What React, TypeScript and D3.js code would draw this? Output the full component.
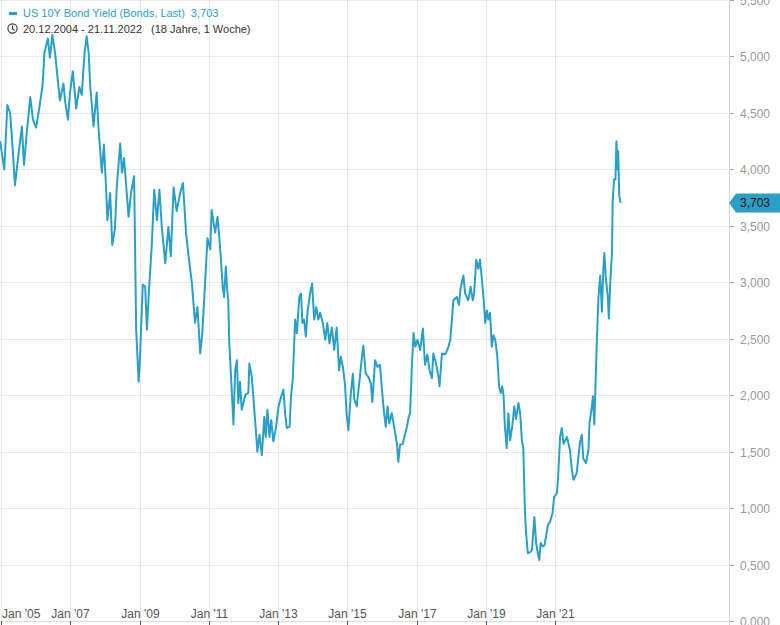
import React from "react";
import * as d3 from "d3";

// decimal years (weekly-ish samples)
const dates: number[] = [
  2004.97, 2005.09, 2005.18, 2005.26, 2005.31, 2005.40, 2005.47, 2005.60, 2005.66, 2005.74,
  2005.84, 2005.92, 2006.01, 2006.11, 2006.20, 2006.25, 2006.35, 2006.41, 2006.48, 2006.56,
  2006.63, 2006.70, 2006.80, 2006.85, 2006.93, 2006.99, 2007.07, 2007.17, 2007.26, 2007.33,
  2007.41, 2007.47, 2007.53, 2007.57, 2007.67, 2007.76, 2007.81, 2007.91, 2007.97, 2008.03,
  2008.07, 2008.15, 2008.21, 2008.29, 2008.34, 2008.44, 2008.49, 2008.55, 2008.68, 2008.75,
  2008.84, 2008.90, 2008.97, 2009.01, 2009.09, 2009.16, 2009.21, 2009.27, 2009.35, 2009.42,
  2009.50, 2009.57, 2009.64, 2009.74, 2009.83, 2009.90, 2009.98, 2010.07, 2010.17, 2010.25,
  2010.34, 2010.41, 2010.51, 2010.60, 2010.67, 2010.75, 2010.81, 2010.89, 2010.96, 2011.04,
  2011.08, 2011.18, 2011.25, 2011.32, 2011.40, 2011.44, 2011.49, 2011.53, 2011.56, 2011.59,
  2011.66, 2011.71, 2011.76, 2011.81, 2011.85, 2011.90, 2011.95, 2012.05, 2012.14, 2012.17,
  2012.24, 2012.29, 2012.35, 2012.40, 2012.46, 2012.53, 2012.60, 2012.64, 2012.69, 2012.75,
  2012.80, 2012.86, 2012.94, 2013.01, 2013.09, 2013.15, 2013.20, 2013.25, 2013.33, 2013.37,
  2013.42, 2013.47, 2013.49, 2013.54, 2013.61, 2013.66, 2013.70, 2013.75, 2013.80, 2013.85,
  2013.92, 2013.98, 2014.04, 2014.10, 2014.16, 2014.21, 2014.29, 2014.36, 2014.42, 2014.48,
  2014.55, 2014.62, 2014.69, 2014.76, 2014.81, 2014.87, 2014.93, 2014.98, 2015.03, 2015.10,
  2015.16, 2015.20, 2015.27, 2015.35, 2015.42, 2015.46, 2015.53, 2015.61, 2015.68, 2015.72,
  2015.80, 2015.87, 2015.94, 2015.99, 2016.06, 2016.11, 2016.16, 2016.21, 2016.28, 2016.35,
  2016.43, 2016.47, 2016.52, 2016.60, 2016.67, 2016.72, 2016.77, 2016.81, 2016.86, 2016.91,
  2016.96, 2017.02, 2017.10, 2017.18, 2017.24, 2017.31, 2017.37, 2017.44, 2017.48, 2017.56,
  2017.63, 2017.66, 2017.73, 2017.82, 2017.92, 2017.97, 2018.01, 2018.06, 2018.16, 2018.22,
  2018.27, 2018.35, 2018.40, 2018.49, 2018.56, 2018.62, 2018.66, 2018.72, 2018.78, 2018.83,
  2018.88, 2018.93, 2018.98, 2019.03, 2019.07, 2019.12, 2019.17, 2019.22, 2019.27, 2019.33,
  2019.38, 2019.43, 2019.47, 2019.51, 2019.55, 2019.60, 2019.65, 2019.70, 2019.76, 2019.82,
  2019.87, 2019.94, 2019.99, 2020.04, 2020.08, 2020.13, 2020.16, 2020.21, 2020.28, 2020.33,
  2020.40, 2020.45, 2020.50, 2020.54, 2020.58, 2020.64, 2020.69, 2020.74, 2020.79, 2020.85,
  2020.92, 2020.97, 2021.05, 2021.09, 2021.14, 2021.19, 2021.24, 2021.34, 2021.43, 2021.48,
  2021.53, 2021.62, 2021.72, 2021.77, 2021.81, 2021.89, 2021.96, 2021.99, 2022.06, 2022.09,
  2022.13, 2022.20, 2022.25, 2022.30, 2022.35, 2022.39, 2022.42, 2022.46, 2022.52, 2022.55,
  2022.59, 2022.64, 2022.66, 2022.70, 2022.74, 2022.77, 2022.80, 2022.82, 2022.85, 2022.89,
];

const yields: number[] = [
  4.25, 4.00, 4.57, 4.50, 4.29, 3.86, 4.05, 4.38, 4.04, 4.32,
  4.64, 4.44, 4.37, 4.56, 4.75, 5.03, 5.16, 4.99, 5.19, 5.03,
  4.81, 4.61, 4.76, 4.60, 4.44, 4.68, 4.87, 4.54, 4.73, 4.66,
  5.03, 5.18, 5.03, 4.76, 4.38, 4.68, 4.38, 3.97, 4.22, 3.85,
  3.55, 3.79, 3.33, 3.48, 3.84, 4.23, 3.97, 4.10, 3.58, 3.79,
  3.94, 2.58, 2.12, 2.33, 2.98, 2.96, 2.58, 2.93, 3.33, 3.82,
  3.55, 3.82, 3.49, 3.17, 3.49, 3.23, 3.84, 3.63, 3.79, 3.88,
  3.44, 3.24, 2.99, 2.64, 2.78, 2.37, 2.55, 2.99, 3.39, 3.29,
  3.64, 3.44, 3.58, 3.33, 2.96, 2.87, 3.14, 2.93, 2.84, 2.46,
  2.05, 1.74, 2.22, 2.31, 1.93, 2.12, 1.87, 2.00, 2.02, 2.28,
  2.16, 1.96, 1.72, 1.50, 1.65, 1.47, 1.81, 1.63, 1.87, 1.63,
  1.78, 1.59, 1.72, 1.90, 1.99, 2.05, 1.84, 1.71, 1.72, 1.99,
  2.13, 2.52, 2.67, 2.55, 2.87, 2.90, 2.64, 2.67, 2.52, 2.74,
  2.90, 2.99, 2.67, 2.78, 2.67, 2.73, 2.64, 2.49, 2.64, 2.46,
  2.60, 2.40, 2.60, 2.22, 2.34, 2.25, 2.10, 1.82, 1.69, 2.02,
  2.19, 1.96, 1.90, 2.13, 2.34, 2.44, 2.19, 2.16, 2.10, 1.94,
  2.31, 2.25, 2.27, 2.08, 1.84, 1.72, 1.90, 1.75, 1.84, 1.72,
  1.57, 1.41, 1.56, 1.57, 1.66, 1.72, 1.81, 1.84, 2.25, 2.55,
  2.43, 2.49, 2.40, 2.59, 2.27, 2.36, 2.22, 2.15, 2.37, 2.28,
  2.16, 2.08, 2.37, 2.36, 2.43, 2.49, 2.64, 2.84, 2.87, 2.80,
  2.95, 3.06, 2.90, 2.84, 2.96, 2.84, 2.90, 3.20, 3.12, 3.20,
  3.04, 2.87, 2.64, 2.75, 2.67, 2.73, 2.43, 2.53, 2.49, 2.34,
  2.08, 2.02, 2.08, 2.00, 1.72, 1.53, 1.84, 1.60, 1.72, 1.90,
  1.79, 1.93, 1.84, 1.60, 1.53, 0.95, 0.78, 0.60, 0.61, 0.63,
  0.92, 0.69, 0.60, 0.54, 0.69, 0.66, 0.67, 0.76, 0.85, 0.88,
  0.95, 1.10, 1.13, 1.31, 1.63, 1.71, 1.57, 1.63, 1.51, 1.34,
  1.25, 1.31, 1.59, 1.65, 1.44, 1.40, 1.51, 1.75, 1.90, 1.99,
  1.74, 2.46, 2.87, 3.06, 2.74, 3.11, 3.26, 3.05, 2.87, 2.68,
  2.99, 3.26, 3.71, 3.91, 3.91, 4.25, 4.00, 4.16, 3.77, 3.703,
];

const xTickYears: number[] = [2005, 2007, 2009, 2011, 2013, 2015, 2017, 2019, 2021];
const yTicks: number[] = [0, 0.5, 1, 1.5, 2, 2.5, 3, 3.5, 4, 4.5, 5, 5.5];
const lastValue = 3.703;
const seriesName = "US 10Y Bond Yield (Bonds, Last)";
const rangeText = "20.12.2004 - 21.11.2022";
const durationText = "(18 Jahre, 1 Woche)";

const W = 780;
const H = 625;
const PLOT_R = 729;
const PLOT_B = 621;
const BLUE = "#2a9fc8";
const FONT = "'Liberation Sans', Arial, sans-serif";

function decToDate(d: number): Date {
  const y = Math.floor(d);
  const start = Date.UTC(y, 0, 1);
  const end = Date.UTC(y + 1, 0, 1);
  return new Date(start + (d - y) * (end - start));
}

const deLocale = d3.formatLocale({ decimal: ",", thousands: ".", grouping: [3], currency: ["", "€"] });
const fmt3 = deLocale.format(".3f");

export default function App() {
  const x = d3
    .scaleUtc()
    .domain([new Date(Date.UTC(2004, 11, 20)), new Date(Date.UTC(2026, 0, 8))])
    .range([0, PLOT_R]);
  const y = d3.scaleLinear().domain([0, 5.5]).range([PLOT_B, 0]);

  const pts = dates.map((d, i) => ({ t: decToDate(d), v: yields[i] }));
  const line = d3
    .line<{ t: Date; v: number }>()
    .x((p) => x(p.t))
    .y((p) => y(p.v));

  const yLast = y(lastValue);

  return (
    <svg
      width={W}
      height={H}
      style={{ position: "fixed", left: 0, top: 0, background: "#fff" }}
      fontFamily={FONT}
    >
      {/* horizontal grid */}
      {yTicks.map((t) => (
        <line key={"hg" + t} x1={0} x2={PLOT_R} y1={Math.round(y(t)) + 0.5} y2={Math.round(y(t)) + 0.5} stroke="#e9e9e9" />
      ))}
      {/* vertical grid */}
      {xTickYears.map((yr) => {
        const xx = Math.round(x(new Date(Date.UTC(yr, 0, 1)))) + 0.5;
        return <line key={"vg" + yr} x1={xx} x2={xx} y1={0} y2={PLOT_B} stroke="#e9e9e9" />;
      })}
      {/* bottom axis line */}
      <line x1={0} x2={PLOT_R} y1={PLOT_B + 0.5} y2={PLOT_B + 0.5} stroke="#dcdcdc" />
      {/* right axis line */}
      <line x1={PLOT_R + 0.5} x2={PLOT_R + 0.5} y1={0} y2={H} stroke="#d6d6d6" />

      {/* x ticks + labels */}
      {xTickYears.map((yr, i) => {
        const xx = Math.round(x(new Date(Date.UTC(yr, 0, 1)))) + 0.5;
        const label = "Jan '" + String(yr).slice(2);
        return (
          <g key={"xt" + yr}>
            <line x1={xx} x2={xx} y1={PLOT_B} y2={H} stroke="#555" />
            <text
              x={i === 0 ? 2 : xx}
              y={618}
              textAnchor={i === 0 ? "start" : "middle"}
              fontSize={12}
              fill="#555"
            >
              {label}
            </text>
          </g>
        );
      })}

      {/* y ticks + labels */}
      {yTicks.map((t) => {
        const yy = Math.round(y(t)) + 0.5;
        return (
          <g key={"yt" + t}>
            <line x1={PLOT_R + 1} x2={PLOT_R + 5} y1={yy} y2={yy} stroke="#aaa" />
            <text x={740} y={yy} dy="0.35em" fontSize={12} fill="#9a9a9a">
              {fmt3(t)}
            </text>
          </g>
        );
      })}

      {/* series */}
      <path d={line(pts) || ""} fill="none" stroke={BLUE} strokeWidth={2} strokeLinejoin="round" />

      {/* last value badge */}
      <path
        d={`M${PLOT_R},${yLast} L${PLOT_R + 7},${yLast - 9.5} L${W},${yLast - 9.5} L${W},${yLast + 9.5} L${PLOT_R + 7},${yLast + 9.5} Z`}
        fill={BLUE}
      />
      <text x={740} y={yLast} dy="0.35em" fontSize={12} fill="#111">
        {fmt3(lastValue)}
      </text>

      {/* legend */}
      <rect x={9} y={12} width={8} height={3} fill={BLUE} />
      <text x={23} y={17} fontSize={11} fill={BLUE}>
        {seriesName}
        <tspan dx={6}>{fmt3(lastValue)}</tspan>
      </text>
      <g stroke="#333" fill="none" strokeWidth={1.1}>
        <circle cx={12.5} cy={28.5} r={4.6} />
        <polyline points="12.5,25.6 12.5,28.7 14.6,30.4" />
      </g>
      <text x={23} y={33} fontSize={11} fill="#333">
        {rangeText}
        <tspan dx={9}>{durationText}</tspan>
      </text>
    </svg>
  );
}
